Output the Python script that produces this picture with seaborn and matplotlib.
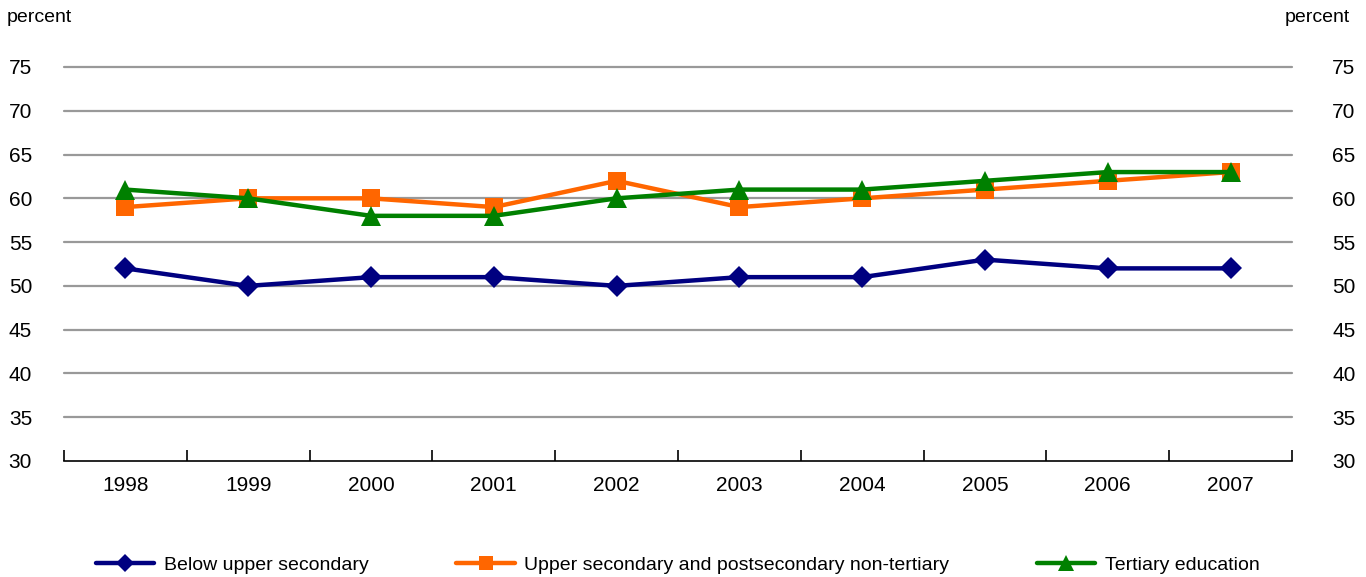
import matplotlib
matplotlib.use("Agg")
import matplotlib.pyplot as plt
import seaborn as sns
import pandas as pd
from matplotlib.ticker import FixedLocator

# chart data
years = ["1998", "1999", "2000", "2001", "2002", "2003", "2004", "2005", "2006", "2007"]
below_upper_secondary = [52, 50, 51, 51, 50, 51, 51, 53, 52, 52]
upper_secondary = [59, 60, 60, 59, 62, 59, 60, 61, 62, 63]
tertiary = [61, 60, 58, 58, 60, 61, 61, 62, 63, 63]
series_names = [
    "Below upper secondary",
    "Upper secondary and postsecondary non-tertiary",
    "Tertiary education",
]
y_ticks = [30, 35, 40, 45, 50, 55, 60, 65, 70, 75]

sns.set_theme(style="white")
plt.rcParams["font.family"] = ["Liberation Sans", "DejaVu Sans"]
plt.rcParams["text.color"] = "black"
plt.rcParams["xtick.color"] = "black"
plt.rcParams["ytick.color"] = "black"
FS = 15      # tick labels
FS_LEG = 14  # legend / unit labels

df = pd.DataFrame({
    "year": years * 3,
    "value": below_upper_secondary + upper_secondary + tertiary,
    "series": [series_names[0]] * 10 + [series_names[1]] * 10 + [series_names[2]] * 10,
})

styles = {
    series_names[0]: dict(color="#000080", marker="D", markersize=11),
    series_names[1]: dict(color="#FF6600", marker="s", markersize=12.5),
    series_names[2]: dict(color="#008000", marker="^", markersize=14.5),
}

fig = plt.figure(figsize=(13.66, 5.77), dpi=100)
ax = fig.add_axes([64 / 1366, 1 - 461 / 577, (1292 - 64) / 1366, (461 - 67) / 577])

for name in series_names:
    sub = df[df["series"] == name]
    st = styles[name]
    sns.lineplot(data=sub, x="year", y="value", ax=ax, color=st["color"],
                 marker=st["marker"], markersize=st["markersize"],
                 markeredgewidth=0, linewidth=3.2, label=name, sort=False)

ax.set_xlim(-0.5, len(years) - 0.5)
ax.set_ylim(30, 75)
ax.set_xlabel("")
ax.set_ylabel("")

# category ticks: labels centred, tick marks at the boundaries
ax.xaxis.set_major_locator(FixedLocator(list(range(len(years)))))
ax.set_xticklabels(years, fontsize=FS)
ax.xaxis.set_minor_locator(FixedLocator([i - 0.5 for i in range(len(years) + 1)]))
ax.tick_params(axis="x", which="major", length=0, pad=11)
ax.tick_params(axis="x", which="minor", bottom=True, length=8, width=1.2,
               direction="in", color="black")

ax.set_yticks(y_ticks)
ax.set_yticklabels([str(t) for t in y_ticks], fontsize=FS)
ax.tick_params(axis="y", length=0, pad=23)

for s in ["top", "left", "right"]:
    ax.spines[s].set_visible(False)
ax.spines["bottom"].set_color("black")
ax.spines["bottom"].set_linewidth(1.2)

for t in y_ticks[1:]:
    ax.axhline(t, color="#999999", linewidth=1.6, zorder=0, clip_on=False)

ax2 = ax.twinx()
ax2.set_ylim(30, 75)
ax2.set_yticks(y_ticks)
ax2.set_yticklabels([str(t) for t in y_ticks], fontsize=FS)
ax2.tick_params(axis="y", length=0, pad=29)
for s in ax2.spines.values():
    s.set_visible(False)
ax2.grid(False)

fig.text(7 / 1366, 1 - 18 / 577, "percent", fontsize=FS_LEG, ha="left", va="center")
fig.text(1350 / 1366, 1 - 18 / 577, "percent", fontsize=FS_LEG, ha="right", va="center")

handles, labels = ax.get_legend_handles_labels()
ax.get_legend().remove()
fig.legend(handles, labels, loc="center", bbox_to_anchor=(0.4963, 0.021),
           ncol=3, frameon=False, fontsize=FS_LEG, handlelength=3.0,
           handletextpad=0.5, columnspacing=4.5, markerscale=0.8)

fig.savefig("out.png", dpi=100)
